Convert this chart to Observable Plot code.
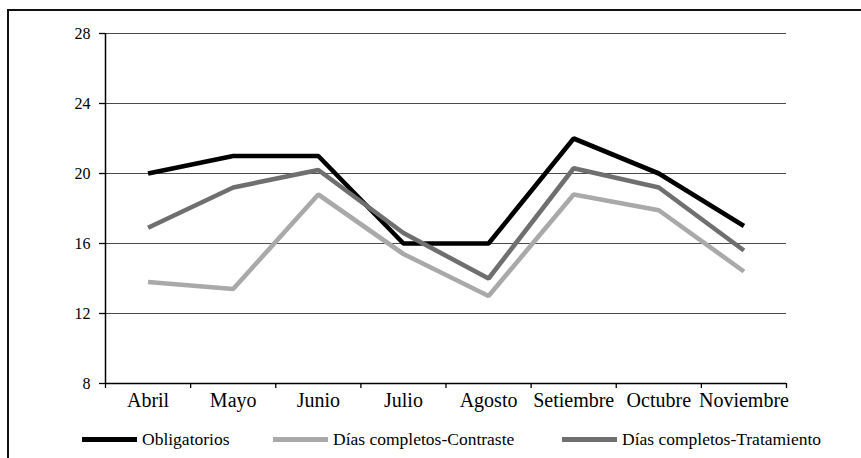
<!DOCTYPE html>
<html>
<head>
<meta charset="utf-8">
<script src="https://cdn.jsdelivr.net/npm/d3@7"></script>
<script src="https://cdn.jsdelivr.net/npm/@observablehq/plot@0.6"></script>
<style>
  html, body { margin: 0; padding: 0; background: #fff; }
  body { width: 861px; height: 458px; overflow: hidden; position: relative; font-family: 'Liberation Serif', serif; }
  #frame { position: absolute; left: 7px; top: 9px; width: 900px; height: 500px; border: 2px solid #111; box-sizing: border-box; }
  #chart { position: absolute; left: 0; top: 0; }
  .item { position: absolute; top: 429px; display: flex; align-items: center; font-family: 'Liberation Serif', serif; font-size: 17.5px; color: #000; white-space: nowrap; }
  .swatch { width: 55px; height: 5px; margin-right: 5px; }
</style>
</head>
<body>
<div id="frame"></div>
<div id="chart"></div>
<div id="legend"></div>
<script>
// Months (categories)
const months = ["Abril", "Mayo", "Junio", "Julio", "Agosto", "Setiembre", "Octubre", "Noviembre"];

// Series values
const obligatorios = [20, 21, 21, 16, 16, 22, 20, 17];
const contraste    = [13.8, 13.4, 18.8, 15.4, 13.0, 18.8, 17.9, 14.4];
const tratamiento  = [16.9, 19.2, 20.2, 16.6, 14.0, 20.3, 19.2, 15.6];

// Series names and colours
const seriesNames = ["Obligatorios", "Días completos-Contraste", "Días completos-Tratamiento"];
const seriesColors = ["#000000", "#a9a9a9", "#6f6f6f"];

// Y-axis ticks
const yTicks = [8, 12, 16, 20, 24, 28];

const seriesValues = [obligatorios, contraste, tratamiento];
const rows = seriesValues.flatMap((vals, s) =>
  vals.map((v, i) => ({ series: seriesNames[s], i: i + 0.5, value: v }))
);

const serif = "'Liberation Serif', serif";

const plot = Plot.plot({
  width: 861,
  height: 410,
  marginLeft: 105,
  marginRight: 75,
  marginTop: 33,
  marginBottom: 27,
  style: { fontFamily: serif, background: "transparent", overflow: "visible" },
  x: { type: "linear", domain: [0, months.length] },
  y: { domain: [8, 28] },
  color: { domain: seriesNames, range: seriesColors },
  marks: [
    // horizontal gridlines
    Plot.ruleY(yTicks.slice(1), { stroke: "#4a4a4a", strokeWidth: 1.2 }),
    // y axis with ticks and labels
    Plot.axisY({ ticks: yTicks, tickSize: 6, tickPadding: 9, fontSize: 16, fontFamily: serif, stroke: "#000", strokeWidth: 1.3, fill: "#000", label: null }),
    Plot.ruleX([0], { stroke: "#000", strokeWidth: 1.5 }),
    // x axis: boundary ticks between categories
    Plot.axisX({ ticks: d3.range(0, months.length + 1), tickSize: 5, tickFormat: () => "", stroke: "#000", strokeWidth: 1.3, label: null }),
    Plot.ruleY([8], { stroke: "#000", strokeWidth: 1.5 }),
    // x axis: month labels at category centres
    Plot.axisX({ ticks: months.map((_, i) => i + 0.5), tickSize: 0, tickPadding: 9, fontSize: 20, fontFamily: serif, fill: "#000", tickFormat: (d) => months[Math.floor(d)], label: null }),
    // series lines
    Plot.line(rows, { x: "i", y: "value", z: "series", stroke: "series", strokeWidth: 4.6, strokeLinejoin: "miter", strokeLinecap: "butt" })
  ]
});
document.getElementById("chart").appendChild(plot);

// Legend below the chart
const legendLefts = [82, 273, 562];
const legend = document.getElementById("legend");
seriesNames.forEach((name, k) => {
  const item = document.createElement("div");
  item.className = "item";
  item.style.left = legendLefts[k] + "px";
  const sw = document.createElement("span");
  sw.className = "swatch";
  sw.style.background = seriesColors[k];
  const label = document.createElement("span");
  label.textContent = name;
  item.appendChild(sw);
  item.appendChild(label);
  legend.appendChild(item);
});
</script>
</body>
</html>
